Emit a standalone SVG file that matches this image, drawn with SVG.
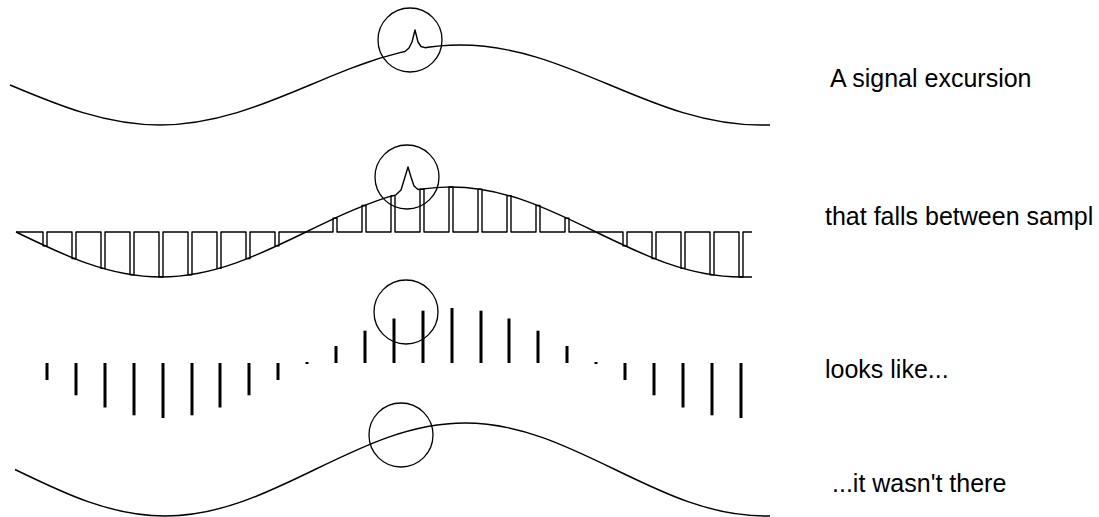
<svg xmlns="http://www.w3.org/2000/svg" width="1099" height="517" viewBox="0 0 1099 517">
<style>
.w{fill:none;stroke:#000;stroke-width:1.4;stroke-linejoin:round}
.c{fill:none;stroke:#000;stroke-width:1.3}
.b{fill:#000}
.t{font-family:"Liberation Sans",Arial,sans-serif;font-size:25px;fill:#000}
</style>
<rect width="1099" height="517" fill="#fff"/>
<g id="row1">
<path class="w" d="M10,85 C58.9,105.5 105.7,125 160,125 C214.3,125 261.1,105.5 310,85 L320,80.8 330,76.7 340,72.6 350,68.7 360,65 370,61.5 380,58.2 390,55.3 400,52.6 405,51.5 409,48 412,42 415,30 418,42 421,46.5 425,47.7 430,47 440,45.9 450,45.2 460,45 C514.3,45 561.1,64.5 610,85 C658.9,105.5 705.7,125 760,125 L770,125"/>
<circle class="c" cx="410" cy="40" r="32"/>
</g>
<g id="row2">
<path class="w" d="M16,232 C63.3,255.05 108.5,277 161,277 C213.5,277 258.7,255.05 306,232 L316,227.1 326,222.3 336,217.6 346,213.1 356,208.8 366,204.8 376,201.1 386,197.7 396,194.8 401,190 405,177 408,167 411,177 414,186 418,189.5 426,188.6 436,187.6 446,187.1 451,187 C503.5,187 548.7,208.95 596,232 C643.3,255.05 688.5,277 741,277 L752,277"/>
<path class="w" d="M16 232 H43 V245.9 H47 V232 H72 V258.5 H76 V232 H101 V268.4 H105 V232 H130 V274.8 H134 V232 H159 V277 H163 V232 H188 V274.8 H192 V232 H217 V268.4 H221 V232 H246 V258.5 H250 V232 H275 V245.9 H279 V232 H333 V218.1 H337 V232 H362 V205.5 H366 V232 H391 V195.6 H395 V232 H420 V189.2 H424 V232 H449 V187 H453 V232 H478 V189.2 H482 V232 H507 V195.6 H511 V232 H536 V205.5 H540 V232 H565 V218.1 H569 V232 H623 V245.9 H627 V232 H652 V258.5 H656 V232 H681 V268.4 H685 V232 H710 V274.8 H714 V232 H739 V277 H743 V232 H752"/>
<circle class="c" cx="407" cy="177" r="32"/>
</g>
<g id="row3">
<rect class="b" x="45.5" y="363" width="3" height="17"/>
<rect class="b" x="74.5" y="363" width="3" height="32.3"/>
<rect class="b" x="103.5" y="363" width="3" height="44.5"/>
<rect class="b" x="132.5" y="363" width="3" height="52.3"/>
<rect class="b" x="161.5" y="363" width="3" height="55"/>
<rect class="b" x="190.5" y="363" width="3" height="52.3"/>
<rect class="b" x="218.5" y="363" width="3" height="44.5"/>
<rect class="b" x="247.5" y="363" width="3" height="32.3"/>
<rect class="b" x="276.5" y="363" width="3" height="17"/>
<rect class="b" x="305.5" y="362" width="3" height="2"/>
<rect class="b" x="334.5" y="346" width="3" height="17"/>
<rect class="b" x="363.5" y="330.7" width="3" height="32.3"/>
<rect class="b" x="392.5" y="318.5" width="3" height="44.5"/>
<rect class="b" x="421.5" y="310.7" width="3" height="52.3"/>
<rect class="b" x="450.5" y="308" width="3" height="55"/>
<rect class="b" x="479.5" y="310.7" width="3" height="52.3"/>
<rect class="b" x="507.5" y="318.5" width="3" height="44.5"/>
<rect class="b" x="536.5" y="330.7" width="3" height="32.3"/>
<rect class="b" x="565.5" y="346" width="3" height="17"/>
<rect class="b" x="594.5" y="362" width="3" height="2"/>
<rect class="b" x="623.5" y="363" width="3" height="17"/>
<rect class="b" x="652.5" y="363" width="3" height="32.3"/>
<rect class="b" x="681.5" y="363" width="3" height="44.5"/>
<rect class="b" x="710.5" y="363" width="3" height="52.3"/>
<rect class="b" x="739.5" y="363" width="3" height="55"/>
<circle class="c" cx="406" cy="312" r="32"/>
</g>
<g id="row4">
<path class="w" d="M15,469.5 C63.9,493.3 110.7,516 165,516 C219.3,516 266.1,493.3 315,469.5 C363.9,445.7 410.7,423 465,423 C519.3,423 566.1,445.7 615,469.5 C663.9,493.3 710.7,516 765,516 L770,516"/>
<circle class="c" cx="401" cy="435" r="32"/>
</g>
<g id="labels">
<text class="t" x="830" y="87">A signal excursion</text>
<text class="t" x="825" y="225">that falls between sampl</text>
<text class="t" x="825" y="378">looks like...</text>
<text class="t" x="832" y="492">...it wasn't there</text>
</g>
</svg>
